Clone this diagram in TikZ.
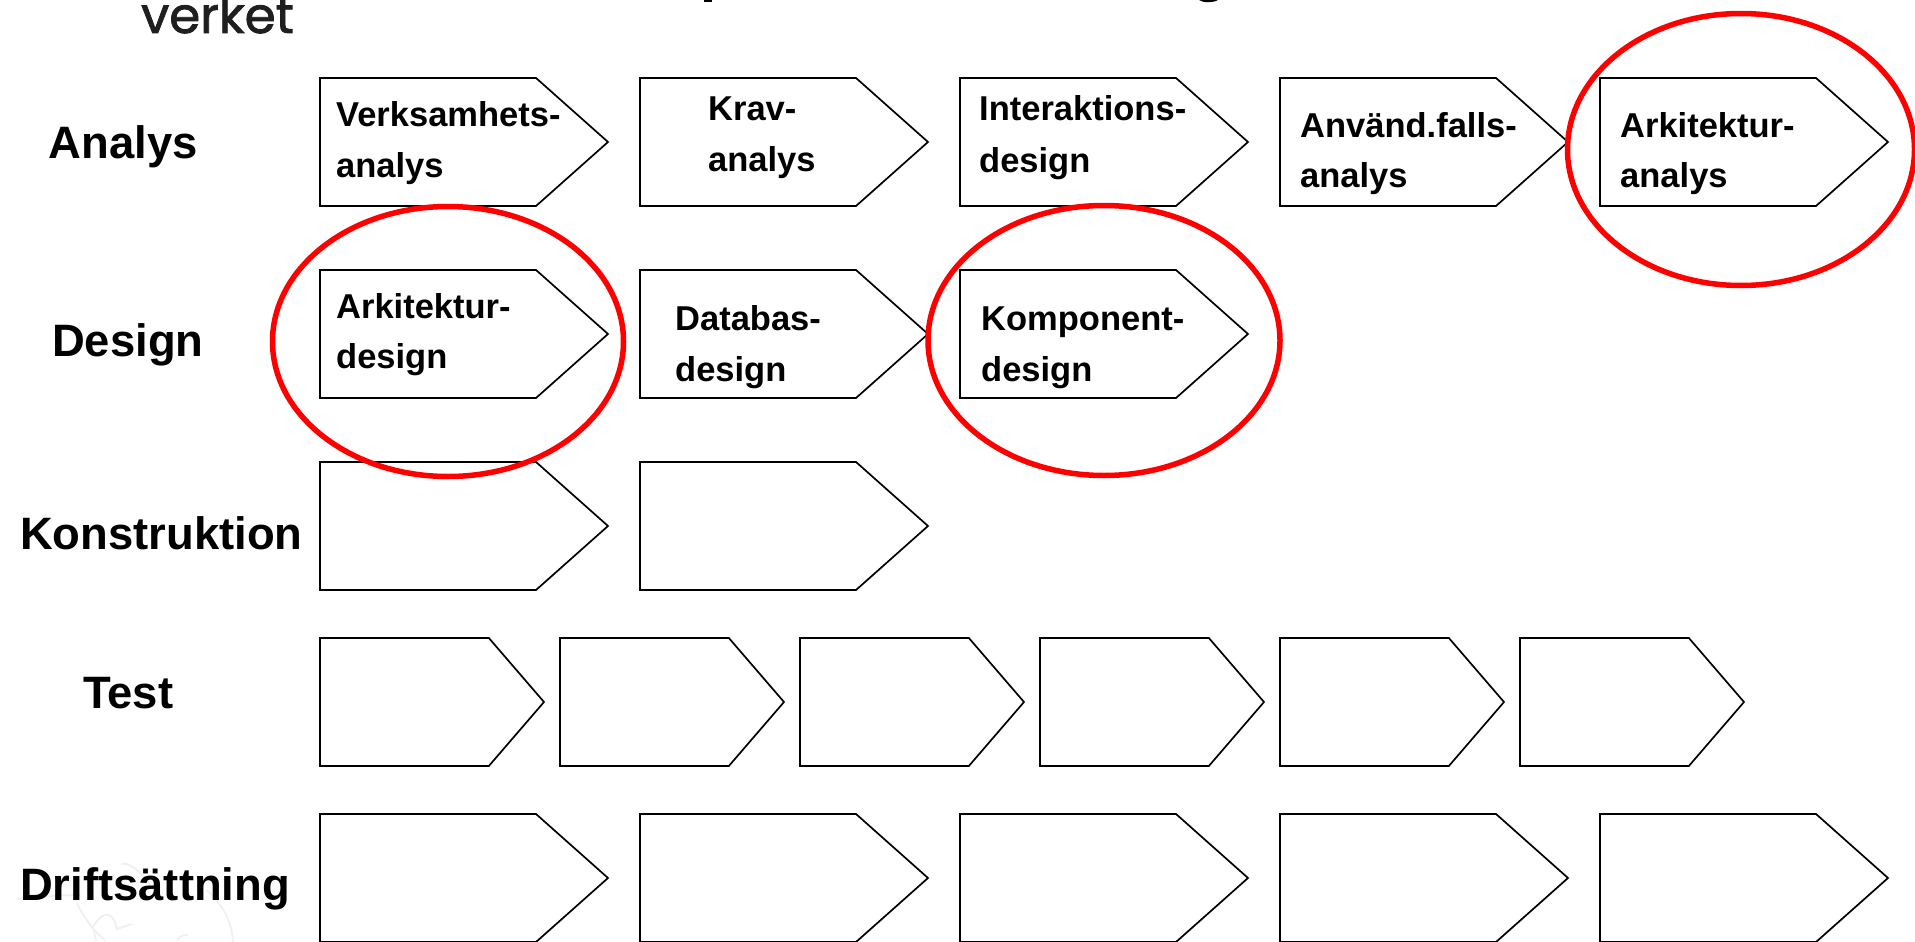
\documentclass[tikz,border=0pt]{standalone}
\usepackage{fontspec}
\setmainfont{Liberation Sans}
\newfontfamily\logofont[FakeBold=1.6]{Poppins}
\usetikzlibrary{shapes.symbols,shapes.geometric}
\tikzset{
  x=1pt,y=-1pt,
  penta/.style={signal,signal to=east,draw=black,line width=1.7pt,fill=white,inner sep=0pt,outer sep=0pt,anchor=west,minimum height=128pt},
  wide/.style={penta,minimum width=288pt,signal pointer angle=83.3},
  narrow/.style={penta,minimum width=224pt,signal pointer angle=98.5},
  rowlabel/.style={anchor=base west,inner sep=0pt,font=\fontsize{45.4}{45.4}\selectfont\bfseries},
  boxtext/.style={anchor=base west,inner sep=0pt,font=\fontsize{34.5}{34.5}\selectfont\bfseries},
  ring/.style={ellipse,draw={rgb,255:red,255;green,0;blue,0},line width=5.5pt,inner sep=0pt,outer sep=0pt},
  sketch/.style={draw=black!6,line width=1.8pt,line cap=round}
}
\begin{document}
\begin{tikzpicture}
\useasboundingbox (0,0) rectangle (1915,942);
% faint watermark
\draw[sketch] (17,899) .. controls (40,897) and (60,895) .. (80,895);
\draw[sketch] (122,864) .. controls (128,862) and (140,870) .. (150,885);
\draw[sketch] (77,903) .. controls (85,920) and (95,932) .. (105,940);
\draw[sketch] (93,927) .. controls (100,915) and (108,910) .. (114,920) -- (117,929) -- (132,924);
\draw[sketch] (93,927) -- (96,940);
\draw[sketch] (207,890) .. controls (222,905) and (232,920) .. (233,942);
\draw[sketch] (177,940) .. controls (180,936) and (184,935) .. (187,935);
% logo and cut-off title
\node[anchor=base west,inner sep=0pt,font=\logofont\fontsize{50}{50}\selectfont,text=black!88] (logo) at (141,33) {verket};
\fill (704,0) rectangle (712,2);
\fill (1199,0) .. controls (1203,3) and (1213,3) .. (1218,0) -- cycle;
% row 1
\node[wide] (a1) at (320,142) {};
\node[wide] (a2) at (640,142) {};
\node[wide] (a3) at (960,142) {};
\node[wide] (a4) at (1280,142) {};
\node[wide] (a5) at (1600,142) {};
% row 2
\node[wide] (d1) at (320,334) {};
\node[wide] (d2) at (640,334) {};
\node[wide] (d3) at (960,334) {};
% row 3
\node[wide] (k1) at (320,526) {};
\node[wide] (k2) at (640,526) {};
% row 4
\node[narrow] (t1) at (320,702) {};
\node[narrow] (t2) at (560,702) {};
\node[narrow] (t3) at (800,702) {};
\node[narrow] (t4) at (1040,702) {};
\node[narrow] (t5) at (1280,702) {};
\node[narrow] (t6) at (1520,702) {};
% row 5
\node[wide] (s1) at (320,878) {};
\node[wide] (s2) at (640,878) {};
\node[wide] (s3) at (960,878) {};
\node[wide] (s4) at (1280,878) {};
\node[wide] (s5) at (1600,878) {};
% row labels
\node[rowlabel] (lA) at (48.5,158) {Analys};
\node[rowlabel] (lD) at (52,356) {Design};
\node[rowlabel] (lK) at (20,549) {Konstruktion};
\node[rowlabel] (lT) at (83,708) {Test};
\node[rowlabel] (lS) at (20,900) {Driftsättning};
% box texts
\node[boxtext] (a1x) at (336,126) {Verksamhets-};
\node[boxtext] (a1y) at (336,177) {analys};
\node[boxtext] (a2x) at (708,120) {Krav-};
\node[boxtext] (a2y) at (708,171) {analys};
\node[boxtext] (a3x) at (979,121) {Interaktions-};
\node[boxtext] (a3y) at (979,172) {design};
\node[boxtext] (a4x) at (1300,137) {Använd.falls-};
\node[boxtext] (a4y) at (1300,187) {analys};
\node[boxtext] (a5x) at (1620,137) {Arkitektur-};
\node[boxtext] (a5y) at (1620,187) {analys};
\node[boxtext] (d1x) at (336,318) {Arkitektur-};
\node[boxtext] (d1y) at (336,368) {design};
\node[boxtext] (d2x) at (675,330) {Databas-};
\node[boxtext] (d2y) at (675,381) {design};
\node[boxtext] (d3x) at (981,330) {Komponent-};
\node[boxtext] (d3y) at (981,381) {design};
% red rings
\node[ring,minimum width=351pt,minimum height=270pt] (r1) at (448,341.5) {};
\node[ring,minimum width=352pt,minimum height=270pt] (r2) at (1104,340.5) {};
\node[ring,minimum width=347pt,minimum height=272pt] (r3) at (1741,149.5) {};
\end{tikzpicture}
\end{document}
